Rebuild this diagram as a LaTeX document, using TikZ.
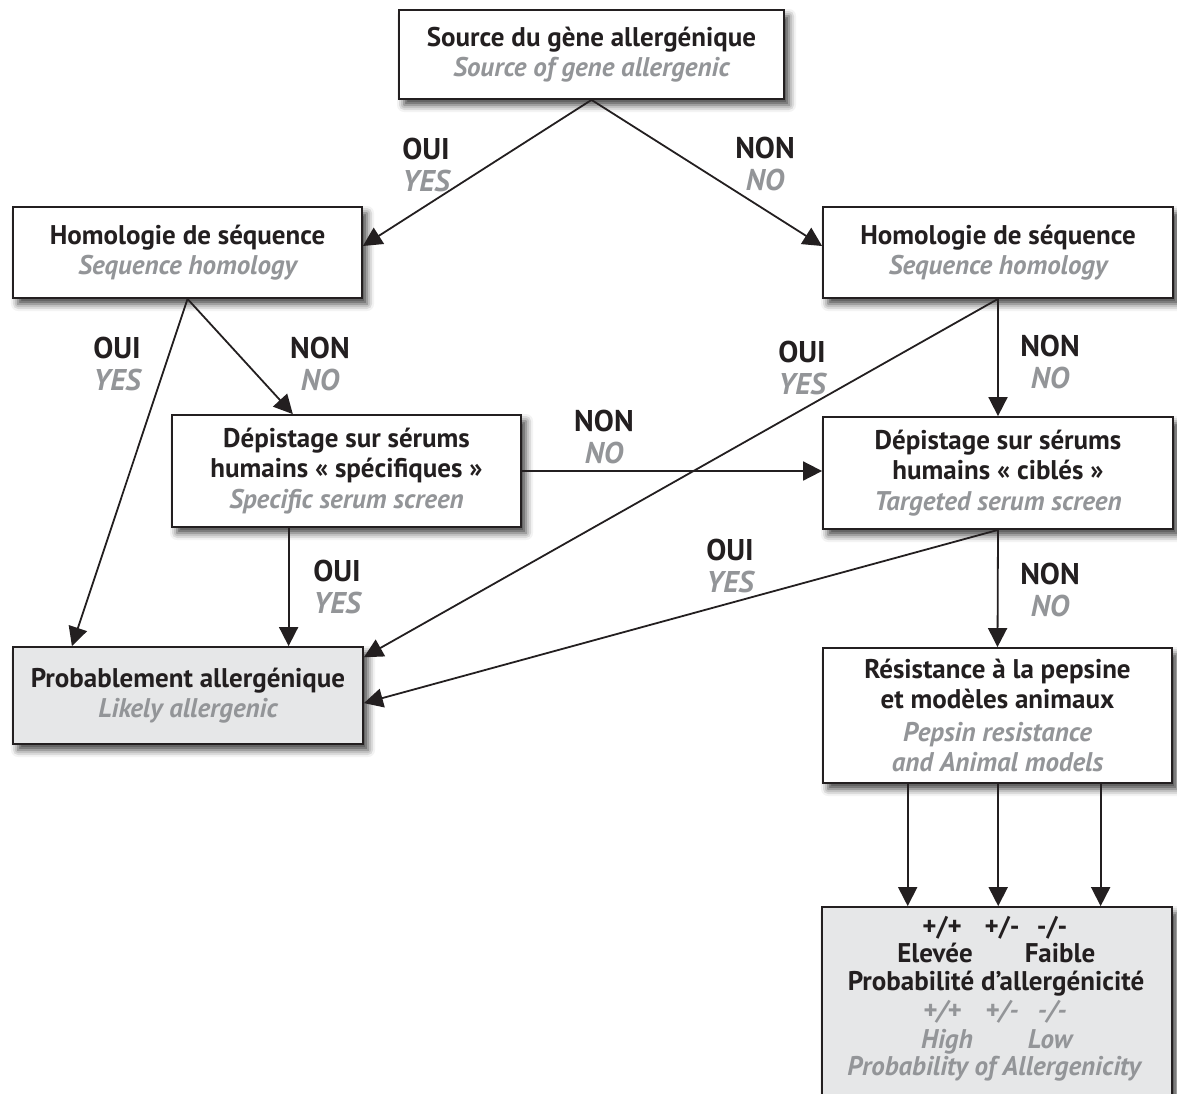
\documentclass[tikz,border=0pt]{standalone}
\usepackage{fontspec}
\setmainfont{PT Sans}
\usetikzlibrary{arrows.meta,calc,shadows.blur}
\definecolor{ink}{HTML}{231F20}
\definecolor{engray}{HTML}{939598}
\definecolor{boxgray}{HTML}{E6E7E8}
\newcommand{\entxt}[1]{{\color{engray}\bfseries\itshape #1}}
\begin{document}
\begin{tikzpicture}[x=1pt,y=-1pt,
  box/.style={draw=ink, line width=1.8pt, fill=white, text=ink,
    font=\fontsize{27}{30.5}\selectfont\bfseries, align=center, inner sep=0pt,
    blur shadow={shadow xshift=5pt, shadow yshift=-6pt, shadow blur radius=7pt, shadow opacity=75}},
  graybox/.style={box, fill=boxgray},
  arr/.style={draw=ink, line width=1.8pt, -{Triangle[length=19pt,width=19pt]}},
  lbl/.style={font=\fontsize{30}{32}\selectfont\bfseries, text=ink, align=center, inner sep=0pt},
  htxt/.style={font=\fontsize{27}{30}\selectfont\bfseries, text=ink, inner sep=0pt, anchor=base},
  hgray/.style={htxt, text=engray, font=\fontsize{27}{30}\selectfont\bfseries\itshape}]
\useasboundingbox (0,0) rectangle (1177,1093);

% boxes
\node[box, minimum width=385pt, minimum height=89pt] (A) at (591.5,54.5)
  {Source du gène allergénique\\\entxt{Source of gene allergenic}};
\node[box, minimum width=349pt, minimum height=91pt] (B) at (187.5,252.5)
  {Homologie de séquence\\\entxt{Sequence homology}};
\node[box, minimum width=350pt, minimum height=91pt] (C) at (998,252.5)
  {Homologie de séquence\\\entxt{Sequence homology}};
\node[box, minimum width=349pt, minimum height=112pt] (D) at (346.5,471)
  {Dépistage sur sérums\\humains « spécifiques »\\\entxt{Specific serum screen}};
\node[box, minimum width=350pt, minimum height=112pt] (E) at (998,473)
  {Dépistage sur sérums\\humains « ciblés »\\\entxt{Targeted serum screen}};
\node[graybox, minimum width=350pt, minimum height=97pt] (F) at (188,695.5)
  {Probablement allergénique\\\entxt{Likely allergenic}};
\node[box, minimum width=349pt, minimum height=135pt] (G) at (997.5,715.5)
  {Résistance à la pepsine\\et modèles animaux\\[2pt]\entxt{Pepsin resistance}\\\entxt{and Animal models}};
\node[graybox, minimum width=350pt, minimum height=215pt] (H) at (997,1014.5) {};

% texts in H
\node[htxt] (h1) at (942,935) {+/+};
\node[htxt] (h2) at (1002,935) {+/-};
\node[htxt] (h3) at (1052,935) {-/-};
\node[htxt] (h4) at (935,962) {Elevée};
\node[htxt] (h5) at (1060,962) {Faible};
\node[htxt] (h6) at (996,990) {Probabilité d’allergénicité};
\node[hgray] (g1) at (942,1019) {+/+};
\node[hgray] (g2) at (1002,1019) {+/-};
\node[hgray] (g3) at (1052,1019) {-/-};
\node[hgray] (g4) at (947,1048) {High};
\node[hgray] (g5) at (1050,1048) {Low};
\node[hgray] (g6) at (994,1075) {Probability of Allergenicity};

% connectors
\draw[arr] (A.south) -- ($(B.north east)!0.43!(B.south east)$);
\draw[arr] (A.south) -- ($(C.north west)!0.43!(C.south west)$);
\draw[arr] (B.south) -- ($(F.north west)!0.17!(F.north east)$);
\draw[arr] (B.south) -- ($(D.north west)!0.347!(D.north east)$);
\coordinate (ds) at ($(D.south west)!0.335!(D.south east)$);
\draw[arr] (ds) -- (ds |- F.north);
\draw[arr] (C.south) -- (E.north);
\draw[arr] (C.south) -- ($(F.north east)!0.113!(F.south east)$);
\draw[arr] (D.east) -- (D.east -| E.west);
\draw[arr] (E.south) -- ($(F.north east)!0.577!(F.south east)$);
\draw[arr] (E.south) -- (G.north);
\coordinate (gs1) at ($(G.south west)!0.244!(G.south east)$);
\coordinate (gs2) at ($(G.south west)!0.502!(G.south east)$);
\coordinate (gs3) at ($(G.south west)!0.794!(G.south east)$);
\draw[arr] (gs1) -- (gs1 |- H.north);
\draw[arr] (gs2) -- (gs2 |- H.north);
\draw[arr] (gs3) -- (gs3 |- H.north);

% labels
\node[lbl] (l1) at (426,165) {OUI\\\entxt{YES}};
\node[lbl] (l2) at (765,164) {NON\\\entxt{NO}};
\node[lbl] (l3) at (117,364) {OUI\\\entxt{YES}};
\node[lbl] (l4) at (320,364) {NON\\\entxt{NO}};
\node[lbl] (l5) at (802,368) {OUI\\\entxt{YES}};
\node[lbl] (l6) at (1050,362) {NON\\\entxt{NO}};
\node[lbl] (l7) at (604,437) {NON\\\entxt{NO}};
\node[lbl] (l8) at (337,587) {OUI\\\entxt{YES}};
\node[lbl] (l9) at (730,566) {OUI\\\entxt{YES}};
\node[lbl] (l10) at (1050,590) {NON\\\entxt{NO}};
\end{tikzpicture}
\end{document}
